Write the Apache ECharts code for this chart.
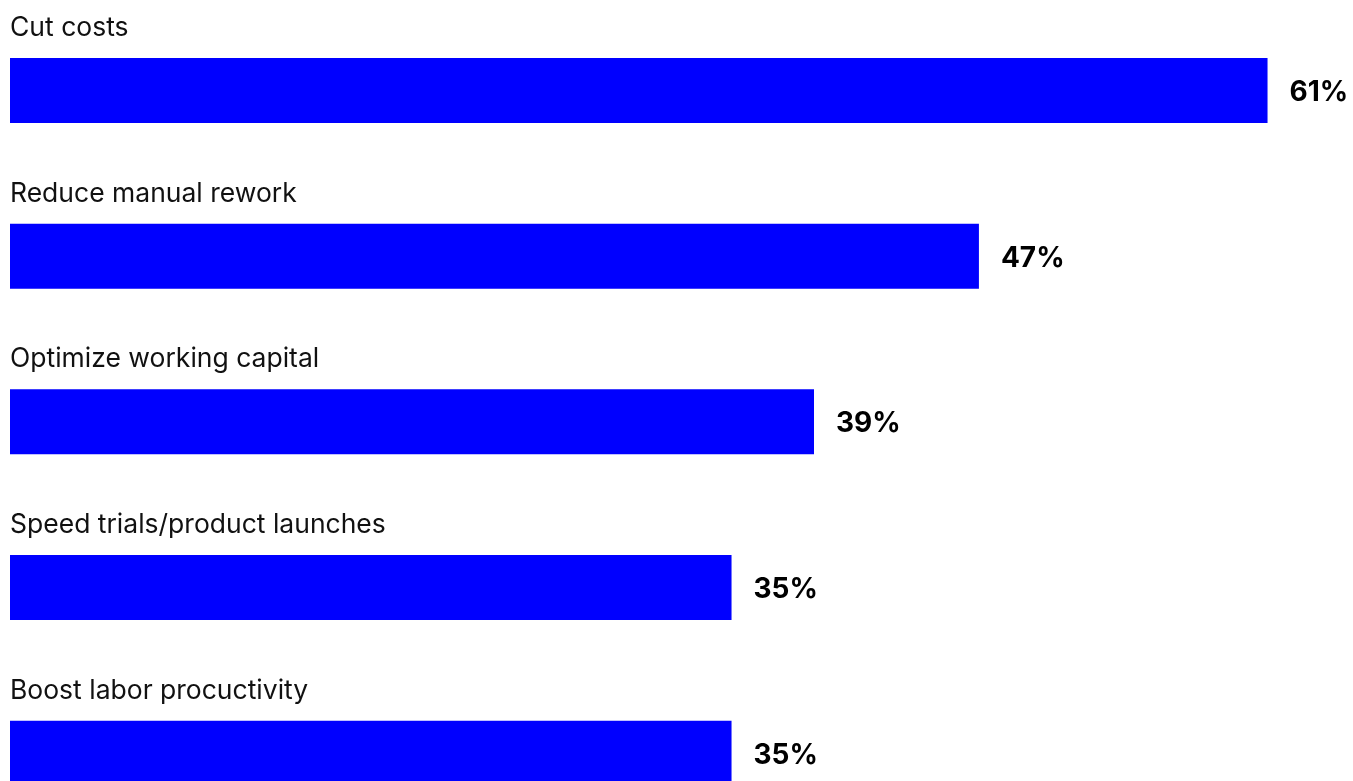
<!DOCTYPE html>
<html><head><meta charset="utf-8">
<script src="https://cdn.jsdelivr.net/npm/echarts@6/dist/echarts.min.js"></script>
<style>html,body{margin:0;padding:0;background:#fff}#c{width:1353px;height:781px}</style>
</head><body><div id="c"></div>
<script>
const categories = ["Cut costs","Reduce manual rework","Optimize working capital","Speed trials/product launches","Boost labor procuctivity"];
const values = [61,47,39,35,35];

const chart = echarts.init(document.getElementById('c'));
chart.setOption({
  animation:false,
  grid:{left:10,right:3,top:7.6,height:828.5,containLabel:false,outerBoundsMode:'none'},
  xAxis:{type:'value',min:0,max:65,show:false},
  yAxis:{type:'category',data:categories,inverse:true,show:false},
  series:[
    {type:'bar',data:values,barWidth:65,itemStyle:{color:'#0000ff'},
     label:{show:true,position:[0,-30],align:'left',verticalAlign:'middle',
       formatter:p=>p.name,fontFamily:'Inter',fontSize:26.5,color:'#111',fontWeight:'normal'}},
    {type:'bar',data:values,barWidth:65,barGap:'-100%',itemStyle:{color:'rgba(0,0,0,0)'},
     label:{show:true,position:'right',distance:22,offset:[0,2],formatter:p=>p.value+'%',
       fontFamily:'Inter',fontSize:28,fontWeight:'bold',color:'#000'}}
  ]
});
</script></body></html>
